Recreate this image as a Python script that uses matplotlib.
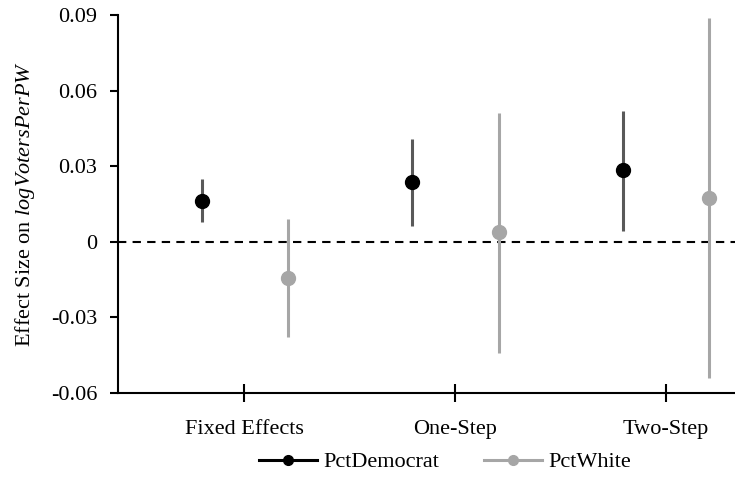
import numpy as np
import matplotlib
matplotlib.use("Agg")
import matplotlib.pyplot as plt
from matplotlib.lines import Line2D

plt.rcParams['font.family'] = ['Liberation Serif', 'DejaVu Serif']
plt.rcParams['mathtext.fontset'] = 'custom'
plt.rcParams['mathtext.rm'] = 'Liberation Serif'
plt.rcParams['mathtext.it'] = 'Liberation Serif:italic'

# Estimates
models = ['Fixed Effects', 'One-Step', 'Two-Step']
dem_est = [0.0162, 0.0239, 0.0285]
dem_lo = [0.0077, 0.0064, 0.0044]
dem_hi = [0.0249, 0.0408, 0.0519]
white_est = [-0.0144, 0.0038, 0.0175]
white_lo = [-0.0379, -0.0442, -0.0539]
white_hi = [0.0089, 0.0512, 0.0887]
yticks = [-0.06, -0.03, 0, 0.03, 0.06, 0.09]
ytick_labels = ['-0.06', '-0.03', '0', '0.03', '0.06', '0.09']

dem_color = '#000000'
dem_bar = '#595959'
white_color = '#a6a6a6'
fs = 16

fig = plt.figure(figsize=(7.35, 4.9), dpi=100)
ax = fig.add_axes([118 / 735, 1 - 393 / 490, 1 - 118 / 735, (393 - 15) / 490])

x = np.arange(len(models))
dem = np.array(dem_est)
white = np.array(white_est)

ax.axhline(0, color='black', lw=1.5, ls=(0, (4, 3)), zorder=1)

ax.errorbar(x - 0.203, dem, yerr=[dem - np.array(dem_lo), np.array(dem_hi) - dem],
            fmt='o', color=dem_color, ecolor=dem_bar, elinewidth=2.2, capsize=0,
            markersize=10, zorder=3)
ax.errorbar(x + 0.208, white, yerr=[white - np.array(white_lo), np.array(white_hi) - white],
            fmt='o', color=white_color, ecolor=white_color, elinewidth=2.2, capsize=0,
            markersize=10, zorder=3)

ax.set_xlim(-0.6, 2.33)
ax.set_ylim(-0.06, 0.09)
ax.set_yticks(yticks)
ax.set_yticklabels(ytick_labels)
ax.set_xticks(x)
ax.set_xticklabels(models)

for s in ['top', 'right']:
    ax.spines[s].set_visible(False)
for s in ['left', 'bottom']:
    ax.spines[s].set_linewidth(1.5)
ax.tick_params(axis='y', direction='out', length=6, width=1.5, pad=9, labelsize=fs)
ax.tick_params(axis='x', direction='inout', length=13, width=1.5, pad=13, labelsize=fs)

ax.set_ylabel(r'Effect Size on $\mathit{logVotersPerPW}$', fontsize=fs, labelpad=10)

handles = [
    Line2D([], [], color=dem_color, lw=2.2, marker='o', markersize=7),
    Line2D([], [], color=white_color, lw=2.2, marker='o', markersize=7),
]
fig.legend(handles, ['PctDemocrat', 'PctWhite'], loc='center',
           bbox_to_anchor=(445 / 735, 1 - 462 / 490), ncol=2, frameon=False,
           fontsize=fs, handlelength=2.6, columnspacing=2.0, handletextpad=0.3)

fig.savefig('out.png', dpi=100)
